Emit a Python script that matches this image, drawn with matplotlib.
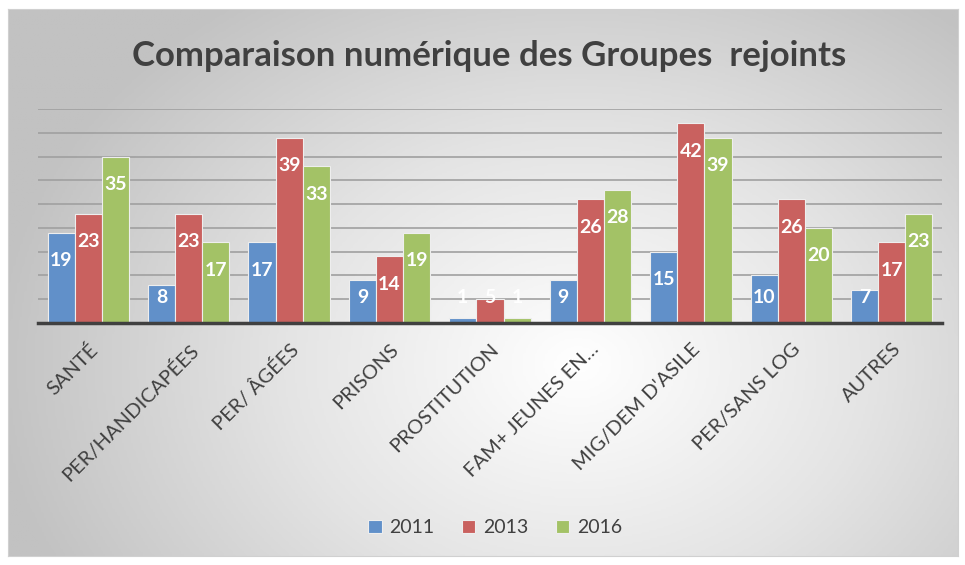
import numpy as np
import matplotlib.pyplot as plt
from matplotlib.colors import LinearSegmentedColormap

# donnees
categories = ["SANTÉ", "PER/HANDICAPÉES", "PER/ ÂGÉES", "PRISONS", "PROSTITUTION",
              "FAM+ JEUNES EN…", "MIG/DEM D'ASILE", "PER/SANS LOG", "AUTRES"]
years = ["2011", "2013", "2016"]
v2011 = [19, 8, 17, 9, 1, 9, 15, 10, 7]
v2013 = [23, 23, 39, 14, 5, 26, 42, 26, 17]
v2016 = [35, 17, 33, 19, 1, 28, 39, 20, 23]
series = [v2011, v2013, v2016]
colors = ['#6190C9', '#C9615F', '#A3C266']

plt.rcParams['font.family'] = ['Lato', 'DejaVu Sans']
txt = '#404040'

fig = plt.figure(figsize=(9.65, 5.65), dpi=100)

# fond degrade radial
bg = fig.add_axes([8/965, 9/565, 950/965, 547/565], zorder=-10)
gx, gy = np.meshgrid(np.linspace(0, 1, 400), np.linspace(0, 1, 300))
r = np.sqrt(((gx - 0.6) * 1.0) ** 2 + ((gy - 0.65) * 0.75) ** 2)
cmap = LinearSegmentedColormap.from_list('bg', ['#FFFFFF', '#E4E4E4', '#C2C2C2'])
bg.imshow(r, cmap=cmap, extent=[0, 1, 0, 1], origin='upper', aspect='auto', vmin=0, vmax=0.62)
bg.set_xticks([])
bg.set_yticks([])
for s in bg.spines.values():
    s.set_color('#D0D0D0')

ax = fig.add_axes([38/965, 1 - 323/565, 904/965, 214/565])
ax.set_facecolor('none')
x = np.arange(len(categories))
w = 0.27
for i, (vals, c, yr) in enumerate(zip(series, colors, years)):
    pos = x + (i - 1) * w
    ax.bar(pos, vals, width=w, color=c, edgecolor='#EEEEEE', linewidth=0.8, label=yr, zorder=3)
    for xp, v in zip(pos, vals):
        yl = max(v - 5.9, 5.4)
        ax.text(xp, yl, str(v), ha='center', va='center', color='white',
                fontsize=14, fontweight='bold', zorder=4)

ax.set_xlim(-0.5, len(categories) - 0.5)
ax.set_ylim(0, 45)
ax.set_yticks(np.arange(5, 46, 5))
ax.yaxis.grid(True, color='#A0A0A0', linewidth=1.2, zorder=0)
ax.tick_params(axis='y', left=False, labelleft=False)
ax.tick_params(axis='x', bottom=False, pad=9)
for s in ['top', 'right', 'left']:
    ax.spines[s].set_visible(False)
ax.spines['bottom'].set_color(txt)
ax.spines['bottom'].set_linewidth(2.5)
ax.spines['bottom'].set_zorder(5)
ax.set_xticks(x)
ax.set_xticklabels(categories, rotation=45, ha='right', rotation_mode='anchor',
                   fontsize=14.5, color=txt)

fig.text(0.507, 0.900, "Comparaison numérique des Groupes  rejoints", ha='center', va='center',
         fontsize=25, fontweight='bold', color=txt)

fig.legend(loc='center', bbox_to_anchor=(0.513, 0.066), ncol=3, frameon=False,
           fontsize=14, labelcolor=txt, handlelength=0.7, handleheight=0.7,
           handletextpad=0.4, columnspacing=1.4)

fig.savefig('out.png', dpi=100)
